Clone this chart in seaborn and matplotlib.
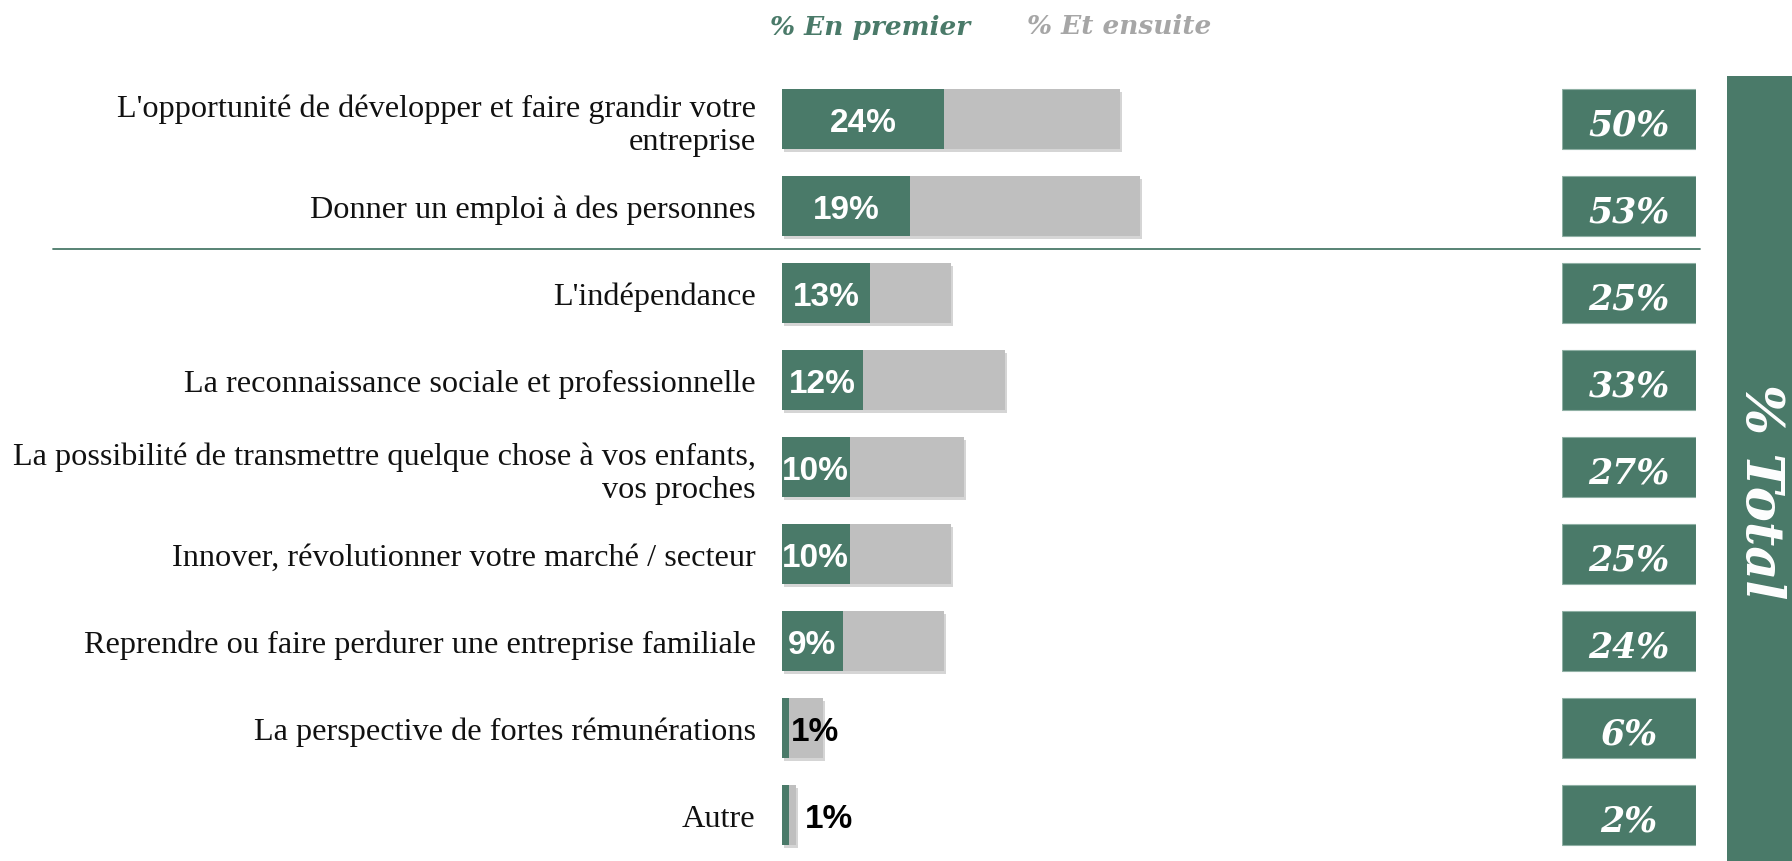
import matplotlib
matplotlib.use("Agg")
import matplotlib.pyplot as plt
import matplotlib.patheffects as pe
from matplotlib.patches import Rectangle
from matplotlib.lines import Line2D
import seaborn as sns
import pandas as pd

categories = [
    "L'opportunité de développer et faire grandir votre\nentreprise",
    "Donner un emploi à des personnes",
    "L'indépendance",
    "La reconnaissance sociale et professionnelle",
    "La possibilité de transmettre quelque chose à vos enfants,\nvos proches",
    "Innover, révolutionner votre marché / secteur",
    "Reprendre ou faire perdurer une entreprise familiale",
    "La perspective de fortes rémunérations",
    "Autre",
]
premier = [24, 19, 13, 12, 10, 10, 9, 1, 1]
total = [50, 53, 25, 33, 27, 25, 24, 6, 2]
legend_labels = ["% En premier", "% Et ensuite"]
total_title = "% Total"

GREEN = "#4A7A69"
GRAY = "#BFBFBF"
LEG_GRAY = "#A6A6A6"

df = pd.DataFrame({"cat": categories, "premier": premier, "total": total})

W, H = 1792, 862
fig = plt.figure(figsize=(W / 100, H / 100), dpi=100)
sns.set_style("white")
plt.rcParams["font.family"] = ["Liberation Serif", "DejaVu Serif"]

row_top = 120 - 43.5
row_bot = 816 + 43.5
ax = fig.add_axes([782 / W, 1 - row_bot / H, 675 / W, (row_bot - row_top) / H])

shadow = [pe.SimplePatchShadow(offset=(1.5, -2.5), shadow_rgbFace="#888888", alpha=0.35), pe.Normal()]

sns.barplot(data=df, x="total", y="cat", color=GRAY, width=0.69, saturation=1, ax=ax, orient="h")
n_gray = len(ax.patches)
sns.barplot(data=df, x="premier", y="cat", color=GREEN, width=0.69, saturation=1, ax=ax, orient="h")
for i, p in enumerate(ax.patches):
    p.set_edgecolor("none")
    if i < n_gray:
        p.set_path_effects(shadow)

ax.set_xlim(0, 100)
ax.set_ylim(len(categories) - 0.5, -0.5)
ax.set_xlabel("")
ax.set_ylabel("")
ax.set_xticks([])
for s in ax.spines.values():
    s.set_visible(False)
ax.tick_params(axis="y", length=0, pad=19)
ax.set_yticks(range(len(categories)))
ax.set_yticklabels(categories, fontsize=23.2, family=["Liberation Serif"], color="#111111", linespacing=1.18)
for lbl in ax.get_yticklabels():
    if "\n" in lbl.get_text():
        lbl.set_y(lbl.get_position()[1] - 0.03)

for i, (p, t) in enumerate(zip(premier, total)):
    kw = dict(va="center", fontsize=24, fontweight="bold", family=["Liberation Sans"])
    y = i + 0.04
    if p >= 5:
        ax.text(p / 2, y, f"{p}%", ha="center", color="white", **kw)
    elif t - p > 3:
        ax.text(p + 0.35, y, f"{p}%", ha="left", color="black", **kw)
    else:
        ax.text(t + 1.4, y, f"{p}%", ha="left", color="black", **kw)

# total boxes
ax2 = fig.add_axes([1562 / W, 1 - row_bot / H, 134 / W, (row_bot - row_top) / H])
ax2.barh(range(len(total)), [1] * len(total), height=0.69, color=GREEN, edgecolor="#8FB0A4", linewidth=0.8)
ax2.set_xlim(0, 1)
ax2.set_ylim(len(categories) - 0.5, -0.5)
ax2.axis("off")
for i, t in enumerate(total):
    ax2.text(0.5, i + 0.06, f"{t}%", ha="center", va="center", color="white", fontsize=25,
             fontweight="bold", fontstyle="italic", family=["DejaVu Serif"])

# separator line
fig.add_artist(Line2D([53 / W, 1700 / W], [1 - 250 / H, 1 - 250 / H], color=GREEN, lw=1.3))

# right band
fig.add_artist(Rectangle((1727 / W, 0), 1 - 1727 / W, 1 - 77 / H, transform=fig.transFigure,
                         facecolor=GREEN, edgecolor="none"))
fig.text(1760 / W, 1 - 492 / H, total_title, rotation=-90, ha="center", va="center", color="white",
         fontsize=38, fontweight="bold", fontstyle="italic", family=["DejaVu Serif"])

# legend
fig.text(770 / W, 1 - 27 / H, legend_labels[0], ha="left", va="center", color=GREEN, fontsize=19,
         fontweight="bold", fontstyle="italic", family=["DejaVu Serif"])
fig.text(1027 / W, 1 - 27 / H, legend_labels[1], ha="left", va="center", color=LEG_GRAY, fontsize=19,
         fontweight="bold", fontstyle="italic", family=["DejaVu Serif"])

fig.savefig("out.png", dpi=100, facecolor="white")
